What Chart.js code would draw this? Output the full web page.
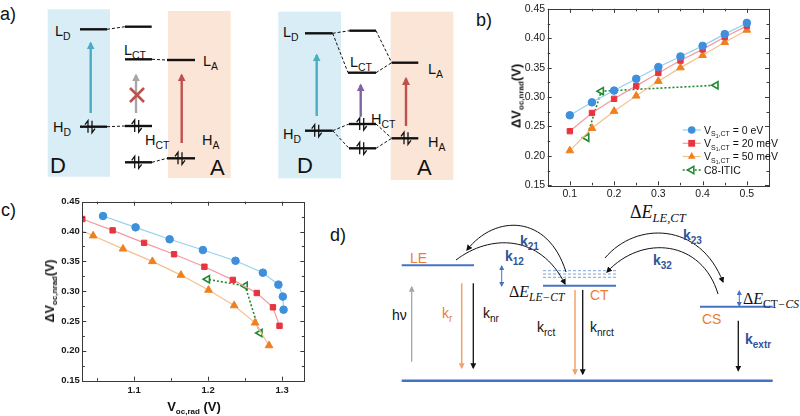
<!DOCTYPE html>
<html><head><meta charset="utf-8">
<script src="https://cdn.jsdelivr.net/npm/chart.js@4/dist/chart.umd.min.js"></script>
<style>
html,body{margin:0;padding:0;background:#fff;}
#wrap{position:relative;width:800px;height:416px;overflow:hidden;font-family:"Liberation Sans",Arial,sans-serif;}
#diag{position:absolute;left:0;top:0;}
.cv{position:absolute;}
.ttl{position:absolute;white-space:nowrap;font-weight:bold;color:#111;transform:translate(-50%,-50%);}
.ttl .s{font-size:8px;position:relative;top:3px;}
</style></head>
<body><div id="wrap">
<svg id="diag" width="800" height="416" xmlns="http://www.w3.org/2000/svg"></svg>
<div class="cv" style="left:510px;top:0;width:270px;height:205px"><canvas id="cb"></canvas></div>
<div class="cv" style="left:40px;top:190px;width:275px;height:210px"><canvas id="cc"></canvas></div>
<div class="ttl" style="left:516px;top:95.5px;font-size:13px;transform:translate(-50%,-50%) rotate(-90deg)">ΔV<span class="s">oc,nrad</span>(V)</div>
<div class="ttl" style="left:50px;top:291px;font-size:12.5px;transform:translate(-50%,-50%) rotate(-90deg)">ΔV<span class="s">oc,nrad</span>(V)</div>
<div class="ttl" style="left:194px;top:406px;font-size:13px">V<span class="s">oc,rad</span> (V)</div>
</div>
<script>
// ---------- data: panel b ----------
const dELE      = [0.1, 0.15, 0.2, 0.25, 0.3, 0.35, 0.4, 0.45, 0.5];
const dVnrad0   = [0.269, 0.291, 0.311, 0.331, 0.351, 0.369, 0.387, 0.407, 0.426];
const dVnrad20  = [0.242, 0.273, 0.297, 0.319, 0.341, 0.362, 0.381, 0.402, 0.421];
const dVnrad50  = [0.209, 0.247, 0.276, 0.302, 0.327, 0.350, 0.371, 0.393, 0.414];
const c8dE      = [0.138, 0.171, 0.430];
const c8dV      = [0.231, 0.310, 0.320];
// ---------- data: panel c ----------
const vrad0     = [1.302, 1.301, 1.295, 1.274, 1.237, 1.193, 1.148, 1.102, 1.058];
const vrad20    = [1.2965, 1.2876, 1.2658, 1.2334, 1.195, 1.154, 1.1135, 1.071, 1.030];
const vrad50    = [1.2824, 1.2635, 1.2352, 1.2006, 1.1633, 1.1247, 1.085, 1.0447, 1.008];
const c8Vrad    = [1.270, 1.250, 1.199];
const c8dVc     = [0.230, 0.309, 0.320];
// ---------- ticks ----------
const bXTicks = [0.1, 0.2, 0.3, 0.4, 0.5];
const yTicks  = [0.15, 0.20, 0.25, 0.30, 0.35, 0.40, 0.45];
const cXTicks = [1.1, 1.2, 1.3];
const legendNames = ['0 eV', '20 meV', '50 meV', 'C8-ITIC'];

const COL = {
  blue:{line:'#92d2f0', mk:'#3e8fdc'},
  red:{line:'#f39aa0', mk:'#e8343f'},
  orange:{line:'#f6c08c', mk:'#f0801e'},
  green:{line:'#1f8a2e', mk:'#1f8a2e'}
};

function minors(maj, min, max){
  const s = maj[1]-maj[0], out=[];
  for(let v=maj[0]-s/2; v<=max+1e-9; v+=s){ if(v>=min-1e-9) out.push(v); }
  return out;
}
function pts(xs, ys){ return xs.map((x,i)=>({x:x, y:ys[i]})); }

const frameTicks = {
  id:'frameTicks',
  afterDraw(chart, args, o){
    const ctx=chart.ctx, a=chart.chartArea, x=chart.scales.x, y=chart.scales.y;
    ctx.save();
    ctx.strokeStyle='#3a3a3a'; ctx.lineWidth=1;
    ctx.strokeRect(Math.round(a.left)+0.5, Math.round(a.top)+0.5, Math.round(a.right-a.left), Math.round(a.bottom-a.top));
    const ln=(x1,y1,x2,y2)=>{ctx.beginPath();ctx.moveTo(x1,y1);ctx.lineTo(x2,y2);ctx.stroke();};
    const doX=(vals,L)=>vals.forEach(v=>{const p=Math.round(x.getPixelForValue(v))+0.5; ln(p,a.bottom,p,a.bottom-L); ln(p,a.top,p,a.top+L);});
    const doY=(vals,L)=>vals.forEach(v=>{const p=Math.round(y.getPixelForValue(v))+0.5; ln(a.left,p,a.left+L,p); ln(a.right,p,a.right-L,p);});
    doX(o.xMajor,4); doX(minors(o.xMajor,x.min,x.max),2.5);
    doY(o.yMajor,4); doY(minors(o.yMajor,y.min,y.max),2.5);
    ctx.restore();
  }
};

function marker(ctx, style, x, y, r, fill, stroke){
  ctx.save(); ctx.fillStyle=fill; ctx.strokeStyle=stroke; ctx.lineWidth=1.5; ctx.setLineDash([]);
  ctx.beginPath();
  if(style==='circle'){ ctx.arc(x,y,r,0,Math.PI*2); }
  else if(style==='rect'){ ctx.rect(x-r*0.9,y-r*0.9,r*1.8,r*1.8); }
  else if(style==='triangle'){ ctx.moveTo(x,y-r); ctx.lineTo(x+r*0.87,y+r*0.5); ctx.lineTo(x-r*0.87,y+r*0.5); ctx.closePath(); }
  else if(style==='ltri'){ ctx.moveTo(x-r,y); ctx.lineTo(x+r*0.5,y-r*0.87); ctx.lineTo(x+r*0.5,y+r*0.87); ctx.closePath(); }
  ctx.fill(); if(style==='ltri') ctx.stroke();
  ctx.restore();
}

const subLegend = {
  id:'subLegend',
  afterDraw(chart, args, o){
    const ctx=chart.ctx;
    ctx.save();
    chart.data.datasets.forEach((ds,i)=>{
      const yy=o.rows[i];
      ctx.strokeStyle=ds.borderColor; ctx.lineWidth=ds.borderWidth;
      ctx.setLineDash(ds.borderDash||[]);
      ctx.beginPath(); ctx.moveTo(o.x1,yy); ctx.lineTo(o.x2,yy); ctx.stroke();
      const st = ds.rotation===-90 ? 'ltri' : ds.pointStyle;
      marker(ctx, st, (o.x1+o.x2)/2, yy, ds.pointRadius, ds.pointBackgroundColor, ds.pointBorderColor);
      ctx.fillStyle='#111'; ctx.textBaseline='alphabetic';
      let tx=o.tx; const base=yy+3.8;
      const put=(t,size,dy)=>{ctx.font=size+'px "Liberation Sans", Arial, sans-serif'; ctx.fillText(t,tx,base+dy); tx+=ctx.measureText(t).width;};
      if(i<3){
        put('V',10.5,0); put('S',7,2.5); put('1',5,4); put(',CT',7,2.5); put(' = '+legendNames[i],10.5,0);
      } else { put(legendNames[i],10.5,0); }
    });
    ctx.restore();
  }
};

function ds(label, data, c, style, r, extra){
  return Object.assign({label:label, data:data, borderColor:c.line, backgroundColor:c.mk,
    pointBackgroundColor:c.mk, pointBorderColor:c.mk, pointBorderWidth:1, pointStyle:style,
    pointRadius:r, borderWidth:1.2, tension:0, showLine:true}, extra||{});
}

function makeChart(id, sets, xr, xTicks, xFmt, yFmt, tickFont, yPad, xPad, layoutPad, yW, xH, legendOpts){
  return new Chart(document.getElementById(id), {
    type:'line',
    data:{datasets:sets},
    options:{
      responsive:true, maintainAspectRatio:false, animation:false, events:[],
      layout:{padding:layoutPad},
      scales:{
        x:{type:'linear', min:xr[0], max:xr[1],
           afterBuildTicks:s=>{s.ticks=xTicks.map(v=>({value:v}));},
           afterFit:s=>{s.height=xH;},
           grid:{display:false, drawTicks:false}, border:{display:false},
           ticks:{padding:xPad, color:'#1a1a1a', font:tickFont, callback:xFmt, autoSkip:false, maxRotation:0}},
        y:{type:'linear', min:0.15, max:0.45,
           afterBuildTicks:s=>{s.ticks=yTicks.map(v=>({value:v}));},
           afterFit:s=>{s.width=yW;},
           grid:{display:false, drawTicks:false}, border:{display:false},
           ticks:{padding:yPad, color:'#1a1a1a', font:tickFont, callback:yFmt, autoSkip:false}}
      },
      plugins:{legend:{display:false}, tooltip:{enabled:false},
        frameTicks:{xMajor:xTicks, yMajor:yTicks},
        subLegend:legendOpts}
    },
    plugins: legendOpts ? [frameTicks, subLegend] : [frameTicks]
  });
}

const green = (data)=>ds('C8-ITIC', data, COL.green, 'triangle', 4.2,
   {rotation:-90, pointBackgroundColor:'#ffffff', pointBorderWidth:1.6, borderDash:[2,2], borderWidth:1.6});

makeChart('cb', [
  ds('0 eV', pts(dELE,dVnrad0), COL.blue, 'circle', 3.8),
  ds('20 meV', pts(dELE,dVnrad20), COL.red, 'rect', 3.8),
  ds('50 meV', pts(dELE,dVnrad50), COL.orange, 'triangle', 4.4),
  green(pts(c8dE,c8dV))
], [0.05,0.55], bXTicks, v=>v.toFixed(1), v=>v.toFixed(2),
 {family:'"Liberation Sans", Arial, sans-serif', size:10.5}, 2.5, 3,
 {top:5.7, right:11, left:0, bottom:0}, 37.7, 19.7,
 {x1:172.7, x2:190.7, tx:194, rows:[130,143.3,156.5,170]});

makeChart('cc', [
  ds('0 eV', pts(vrad0,dVnrad0), COL.blue, 'circle', 3.8),
  ds('20 meV', pts(vrad20,dVnrad20), COL.red, 'rect', 3.8),
  ds('50 meV', pts(vrad50,dVnrad50), COL.orange, 'triangle', 4.4),
  green(pts(c8Vrad,c8dVc))
], [1.03,1.33], cXTicks, v=>v.toFixed(1), v=>v.toFixed(2),
 {family:'"Liberation Sans", Arial, sans-serif', size:9.5, weight:'bold'}, 2.5, 4,
 {top:11.7, right:10.7, left:0, bottom:0}, 42.3, 19.3, null);

// ---------- schematic diagrams (panels a and d) ----------
(function(){
  const F='font-family="Liberation Sans, Arial, sans-serif"';
  const SF='font-family="Liberation Serif, Times New Roman, serif"';
  let s='';
  const mk=(id,c,w)=>`<marker id="${id}" viewBox="0 0 10 10" refX="8" refY="5" markerWidth="${w}" markerHeight="${w}" orient="auto-start-reverse" markerUnits="userSpaceOnUse"><path d="M0,0 L10,5 L0,10 z" fill="${c}"/></marker>`;
  s+='<defs>'+mk('aK','#111',6)+mk('aO','#f4a26a',6)+mk('aG','#a6a6a6',6)+mk('aB','#4472c4',5)+
     mk('aC','#4bacc6',8)+mk('aR','#c0504d',8)+mk('aP','#8064a2',8)+mk('aG2','#a6a6a6',8)+'</defs>';
  const line=(x1,y1,x2,y2,c,w,dash,extra)=>`<line x1="${x1}" y1="${y1}" x2="${x2}" y2="${y2}" stroke="${c}" stroke-width="${w}"${dash?` stroke-dasharray="${dash}"`:''}${extra||''}/>`;
  const lvl=(x1,x2,y)=>line(x1,y,x2,y,'#111',2.4);
  const dsh=(x1,y1,x2,y2)=>line(x1,y1,x2,y2,'#111',1,'3,2');
  const t=(x,y,main,sub,size,c,wt,subsz)=>`<text x="${x}" y="${y}" font-size="${size}" fill="${c||'#111'}" font-weight="${wt||'normal'}" ${F}>${main}${sub?`<tspan font-size="${subsz||size*0.72}" dy="${size*0.28}">${sub}</tspan>`:''}</text>`;
  const el=(x,y)=>`<path d="M${x-2},${y+6}V${y-6}l-3,4 M${x+2},${y-6}V${y+6}l3,-4" stroke="#111" stroke-width="1.3" fill="none"/>`;
  const arr=(x,y1,y2,c,m,w)=>line(x,y1,x,y2,c,w||2.4,null,` marker-end="url(#${m})"`);

  // panel labels
  s+=t(0,20,'a)','',18); s+=t(476,26,'b)','',18); s+=t(1,216,'c)','',18); s+=t(330,241,'d)','',18);

  // ---- panel a, left ----
  s+='<rect x="47.7" y="9.3" width="62.3" height="167.4" fill="#d8edf5"/>';
  s+='<rect x="168" y="11" width="62.7" height="167" fill="#fbe5d6"/>';
  s+=lvl(80,107,29.3)+dsh(107,29.3,125,26.7)+lvl(125,151.7,26.7);
  s+=lvl(125,152,59.3)+dsh(152,59.3,167,60)+lvl(167,195,60);
  s+=lvl(80,107,126.7)+dsh(107,126.7,125,126)+lvl(125,152,126);
  s+=lvl(125,152,162.3)+dsh(152,162.3,167,158.3)+lvl(167,195,158.3);
  s+=el(90,126.7)+el(136.7,126)+el(136.7,162.3)+el(180,158.3);
  s+=arr(90.7,113,43,'#4bacc6','aC')+arr(136,113,75,'#a6a6a6','aG2')+arr(181.7,143,75,'#c0504d','aR');
  s+=line(130,88,144,102,'#c0504d',2.6)+line(144,88,130,102,'#c0504d',2.6);
  s+=t(55,36,'L','D',14.5)+t(124,55,'L','CT',14.5)+t(203,66,'L','A',14.5);
  s+=t(53,132,'H','D',14.5)+t(145,145,'H','CT',14.5)+t(202,145,'H','A',14.5);
  s+=t(50,173,'D','',22)+t(210,175,'A','',22);

  // ---- panel a, right ----
  s+='<rect x="278.3" y="11.7" width="62.7" height="166.6" fill="#d8edf5"/>';
  s+='<rect x="390.7" y="11.7" width="62.6" height="168.3" fill="#fbe5d6"/>';
  s+=lvl(305,332.7,33.3)+lvl(349.3,376,30.7)+lvl(348,376,72.7)+lvl(391.7,418.3,62.7);
  s+=dsh(332.7,33.3,349.3,30.7)+dsh(332.7,33.3,348,72.7)+dsh(376,30.7,391.7,62.7)+dsh(376,72.7,391.7,62.7);
  s+=lvl(305,332.7,130.7)+lvl(349,376,124)+lvl(349,376,148.3)+lvl(391.7,418.3,138.3);
  s+=dsh(332.7,130.7,349,124)+dsh(332.7,130.7,349,148.3)+dsh(376,124,391.7,138.3)+dsh(376,148.3,391.7,138.3);
  s+=el(316.7,130.7)+el(361.7,124)+el(361.7,148.3)+el(406,138.3);
  s+=arr(316.7,116,55,'#4bacc6','aC')+arr(360.7,116.7,85,'#8064a2','aP')+arr(406,126,78.5,'#c0504d','aR');
  s+=t(283,37,'L','D',14.5)+t(350,67,'L','CT',14.5)+t(428,74,'L','A',14.5);
  s+=t(283,139,'H','D',14.5)+t(371,124,'H','CT',14.5)+t(428,147,'H','A',14.5);
  s+=t(297,173,'D','',22)+t(417,175,'A','',22);

  // ---- panel b x-axis title ----
  s+=`<text x="630" y="218" font-size="18" fill="#111" ${SF}>Δ<tspan font-style="italic">E</tspan><tspan font-style="italic" font-size="12.5" dy="4">LE,CT</tspan></text>`;

  // ---- panel d ----
  const BL='#4472c4';
  s+=line(401.7,265.3,474,265.3,BL,2);
  [270.7,274,277.3].forEach(y=>{s+=line(543,y,616,y,'#7fa3de',1,'3,2');});
  s+=line(543,285.7,616,285.7,BL,2);
  s+=line(700,306.7,772.7,306.7,BL,2);
  s+=line(401.7,380.7,772.7,380.7,BL,2.6);
  s+=line(501.7,266,501.7,286,BL,1,null,' marker-start="url(#aB)" marker-end="url(#aB)"');
  s+=line(739.3,291,739.3,306,BL,1,null,' marker-start="url(#aB)" marker-end="url(#aB)"');
  s+=arr(411.7,361.7,287,'#a6a6a6','aG',1.3);
  s+=arr(461.7,283.3,368,'#f4a26a','aO',1.5)+arr(473.3,283.3,368,'#111','aK',1.3);
  s+=arr(575,290,374,'#f4a26a','aO',1.5)+arr(582.7,290,374,'#111','aK',1.3);
  s+=arr(738.3,320.7,370.5,'#111','aK',1.3);
  const cur=(d)=>`<path d="${d}" stroke="#111" stroke-width="1" fill="none" marker-end="url(#aK)"/>`;
  s+=cur('M456,260 C490,234 540,234 565,284');
  s+=cur('M566,272 C548,214 495,214 467,250');
  s+=cur('M605,258 C636,221 700,222 723,282');
  s+=cur('M718,294 C702,240 642,234 607,272');
  const DB='#2f5597', OR='#ed7d31';
  s+=t(520,246,'k','21',14,DB,'bold',10)+t(505,261,'k','12',14,DB,'bold',10);
  s+=t(683,240,'k','23',14,DB,'bold',10)+t(653,265,'k','32',14,DB,'bold',10);
  s+=t(745,344,'k','extr',14,DB,'bold',10);
  s+=t(410,263,'LE','',14,OR)+t(590,300,'CT','',14,OR)+t(702,324,'CS','',14,OR);
  s+=t(392,320,'hν','',14)+t(442,318,'k','r',14,OR)+t(483,318,'k','nr',14);
  s+=t(537,332,'k','rct',14)+t(590,332,'k','nrct',14);
  s+=`<text x="509" y="297" font-size="16" fill="#111" ${SF}>Δ<tspan font-style="italic">E</tspan><tspan font-style="italic" font-size="11.5" dy="3.5">LE−CT</tspan></text>`;
  s+=`<text x="743" y="304" font-size="16" fill="#111" ${SF}>Δ<tspan font-style="italic">E</tspan><tspan font-size="11.5" dy="3.5">CT</tspan><tspan font-style="italic" font-size="11.5">−CS</tspan></text>`;
  document.getElementById('diag').innerHTML=s;
})();
</script>
</body></html>
